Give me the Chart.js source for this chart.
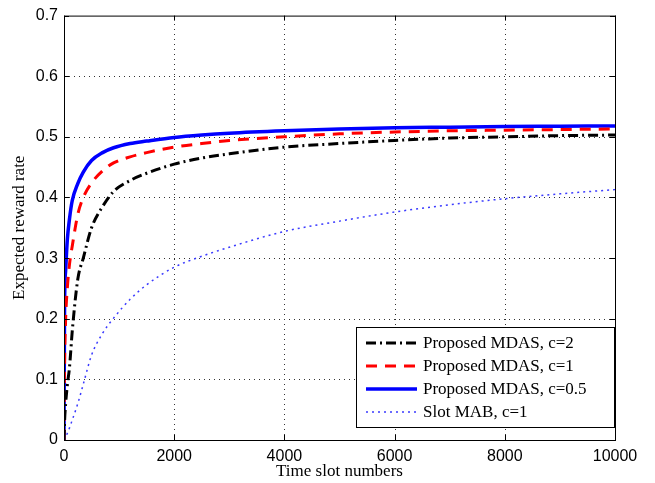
<!DOCTYPE html>
<html>
<head>
<meta charset="utf-8">
<script src="https://cdn.jsdelivr.net/npm/chart.js@4.4.1/dist/chart.umd.min.js"></script>
<style>
    html, body { margin: 0; padding: 0; background: #ffffff; }
    #wrap { width: 655px; height: 483px; position: relative; }
</style>
</head>
<body>
<div id="wrap"><canvas id="rewardChart"></canvas></div>
<script>
const timeSlots = [0, 10, 30, 60, 100, 150, 250, 350, 500, 700, 900, 1200, 1500,
    2000, 2500, 3000, 4000, 5000, 6000, 7000, 8000, 9000, 10000];

// Expected reward rate per series
const mdasC2 = [0, 0.03, 0.06, 0.09, 0.12, 0.18, 0.265, 0.30, 0.35, 0.385, 0.41, 0.428, 0.44,
    0.455, 0.465, 0.472, 0.483, 0.489, 0.494, 0.498, 0.500, 0.502, 0.503];
const mdasC1 = [0, 0.12, 0.20, 0.25, 0.29, 0.32, 0.372, 0.40, 0.424, 0.444, 0.457, 0.467, 0.474,
    0.483, 0.489, 0.494, 0.500, 0.505, 0.508, 0.510, 0.511, 0.512, 0.513];
const mdasC05 = [0, 0.22, 0.28, 0.33, 0.365, 0.395, 0.423, 0.442, 0.461, 0.474, 0.482, 0.489, 0.493,
    0.499, 0.503, 0.506, 0.510, 0.513, 0.515, 0.516, 0.517, 0.5175, 0.518];
const slotMab = [0, 0.002, 0.005, 0.011, 0.02, 0.033, 0.06, 0.092, 0.14, 0.176, 0.201, 0.232, 0.256,
    0.285, 0.303, 0.318, 0.344, 0.361, 0.376, 0.388, 0.398, 0.406, 0.413];

const seriesLabels = ['Proposed MDAS, c=2', 'Proposed MDAS, c=1', 'Proposed MDAS, c=0.5', 'Slot MAB, c=1'];

const xTicks = [0, 2000, 4000, 6000, 8000, 10000];
const yTicks = [0, 0.1, 0.2, 0.3, 0.4, 0.5, 0.6, 0.7];

const sansFont = '"Liberation Sans", Arial, Helvetica, sans-serif';
const serifFont = '"Liberation Serif", "Times New Roman", serif';

function toPoints(values) {
    return timeSlots.map((t, i) => ({ x: t, y: values[i] }));
}

// Dotted grid, box around the plot and MATLAB-style inward ticks
const boxPlugin = {
    id: 'boxPlugin',
    beforeDatasetsDraw(chart) {
        const { ctx, chartArea: a, scales } = chart;
        ctx.save();
        ctx.strokeStyle = '#333';
        ctx.lineWidth = 1;
        ctx.setLineDash([1, 4]);
        ctx.beginPath();
        xTicks.slice(1, -1).forEach(v => {
            const px = Math.round(scales.x.getPixelForValue(v)) + 0.5;
            ctx.moveTo(px, a.bottom); ctx.lineTo(px, a.top);
        });
        yTicks.slice(1, -1).forEach(v => {
            const py = Math.round(scales.y.getPixelForValue(v)) + 0.5;
            ctx.moveTo(a.left, py); ctx.lineTo(a.right, py);
        });
        ctx.stroke();
        ctx.restore();
    },
    afterDatasetsDraw(chart) {
        const { ctx, chartArea: a, scales } = chart;
        ctx.save();
        ctx.strokeStyle = '#000';
        ctx.lineWidth = 1;
        ctx.setLineDash([]);
        ctx.strokeRect(a.left + 0.5, a.top + 0.5, a.right - a.left, a.bottom - a.top);
        ctx.beginPath();
        xTicks.forEach(v => {
            const px = Math.round(scales.x.getPixelForValue(v)) + 0.5;
            ctx.moveTo(px, a.bottom); ctx.lineTo(px, a.bottom - 5);
            ctx.moveTo(px, a.top); ctx.lineTo(px, a.top + 5);
        });
        yTicks.forEach(v => {
            const py = Math.round(scales.y.getPixelForValue(v)) + 0.5;
            ctx.moveTo(a.left, py); ctx.lineTo(a.left + 5, py);
            ctx.moveTo(a.right, py); ctx.lineTo(a.right - 5, py);
        });
        ctx.stroke();
        ctx.restore();
    }
};

// Legend box drawn inside the plot, lower right
const legendPlugin = {
    id: 'insideLegend',
    afterDraw(chart) {
        const { ctx, chartArea: a } = chart;
        const w = 258, h = 100;
        const left = a.right - w - 1, top = a.bottom - h - 13;
        ctx.save();
        ctx.fillStyle = '#fff';
        ctx.fillRect(left, top, w, h);
        ctx.strokeStyle = '#000';
        ctx.lineWidth = 1;
        ctx.setLineDash([]);
        ctx.strokeRect(left + 0.5, top + 0.5, w, h);
        ctx.font = '17px ' + serifFont;
        ctx.textBaseline = 'middle';
        chart.data.datasets.forEach((ds, i) => {
            const y = top + 16 + i * 23;
            ctx.strokeStyle = ds.borderColor;
            ctx.lineWidth = ds.borderWidth;
            ctx.setLineDash(ds.borderDash || []);
            ctx.beginPath();
            ctx.moveTo(left + 10, y);
            ctx.lineTo(left + 61, y);
            ctx.stroke();
            ctx.setLineDash([]);
            ctx.fillStyle = '#000';
            ctx.fillText(ds.label, left + 67, y + 1);
        });
        ctx.restore();
    }
};

const ctx = document.getElementById('rewardChart').getContext('2d');
new Chart(ctx, {
    type: 'line',
    data: {
        datasets: [
            {
                label: seriesLabels[0], data: toPoints(mdasC2),
                borderColor: '#000000', borderWidth: 3, borderDash: [10, 4, 2, 4]
            },
            {
                label: seriesLabels[1], data: toPoints(mdasC1),
                borderColor: '#ff0000', borderWidth: 3, borderDash: [11, 8]
            },
            {
                label: seriesLabels[2], data: toPoints(mdasC05),
                borderColor: '#0000ff', borderWidth: 3.5
            },
            {
                label: seriesLabels[3], data: toPoints(slotMab),
                borderColor: '#3a3aff', borderWidth: 1.5, borderDash: [2, 4]
            }
        ]
    },
    options: {
        responsive: true,
        maintainAspectRatio: false,
        animation: false,
        layout: { padding: { top: 12, right: 40, left: 0, bottom: 0 } },
        elements: {
            point: { radius: 0 },
            line: { cubicInterpolationMode: 'monotone', backgroundColor: 'transparent' }
        },
        plugins: {
            legend: { display: false },
            tooltip: { enabled: false }
        },
        scales: {
            x: {
                type: 'linear',
                min: 0,
                max: 10000,
                afterFit: scale => { scale.height = 43; },
                afterBuildTicks: scale => { scale.ticks = xTicks.map(v => ({ value: v })); },
                ticks: {
                    padding: 7,
                    color: '#000',
                    font: { family: sansFont, size: 16 },
                    maxRotation: 0,
                    callback: v => String(v)
                },
                grid: { display: false, drawTicks: false },
                border: { display: false },
                title: {
                    display: true,
                    text: 'Time slot numbers',
                    color: '#000',
                    font: { family: serifFont, size: 17 },
                    padding: { top: 0, bottom: 1 }
                }
            },
            y: {
                min: 0,
                max: 0.7,
                afterFit: scale => { scale.width = 64; },
                afterBuildTicks: scale => { scale.ticks = yTicks.map(v => ({ value: v })); },
                ticks: {
                    padding: 6,
                    color: '#000',
                    font: { family: sansFont, size: 16 },
                    callback: v => String(Math.round(v * 10) / 10)
                },
                grid: { display: false, drawTicks: false },
                border: { display: false },
                title: {
                    display: true,
                    text: 'Expected reward rate',
                    color: '#000',
                    font: { family: serifFont, size: 17 },
                    padding: { top: 9, bottom: 0 }
                }
            }
        }
    },
    plugins: [boxPlugin, legendPlugin]
});
</script>
</body>
</html>
